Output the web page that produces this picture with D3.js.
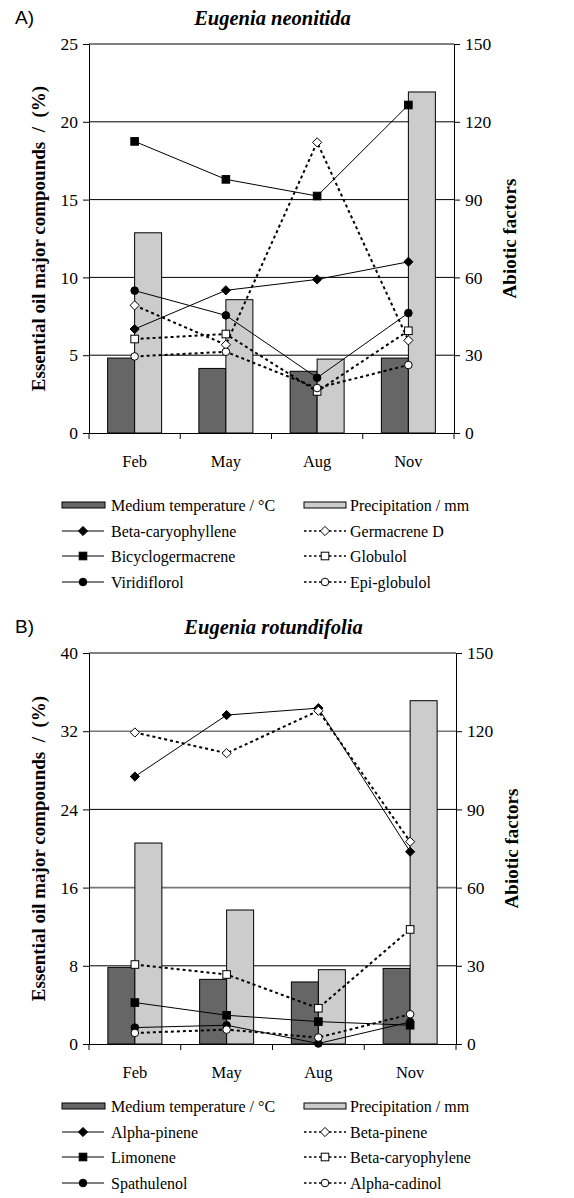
<!DOCTYPE html>
<html>
<head>
<meta charset="utf-8">
<script src="https://cdn.jsdelivr.net/npm/d3@7"></script>
<style>
  body { margin: 0; background: #fff; }
  svg { display: block; }
</style>
</head>
<body>
<svg id="chart" width="574" height="1198"></svg>
<script>
// months sampled
var months = ["Feb", "May", "Aug", "Nov"];

// abiotic factors (right axis), same stations for both species
var tempA = [28.9, 24.9, 23.8, 28.9];
var precipA = [77.2, 51.4, 28.5, 131.5];
var tempB = [29.4, 24.8, 23.8, 29.0];
var precipB = [77.1, 51.4, 28.5, 131.7];

// Eugenia neonitida compounds (%)
var betaCaryophylleneA = [6.68, 9.17, 9.87, 11.0];
var bicyclogermacreneA = [18.74, 16.3, 15.23, 21.08];
var viridiflorolA = [9.15, 7.56, 3.55, 7.71];
var germacreneDA = [8.2, 5.67, 18.68, 5.95];
var globulolA = [6.04, 6.36, 2.67, 6.57];
var epiGlobulolA = [4.92, 5.22, 2.89, 4.37];

// Eugenia rotundifolia compounds (%)
var alphaPineneB = [27.36, 33.65, 34.36, 19.67];
var limoneneB = [4.24, 2.94, 2.29, 1.92];
var spathulenolB = [1.68, 1.92, 0.05, 2.25];
var betaPineneB = [31.87, 29.75, 34.09, 20.7];
var betaCaryophyleneB = [8.13, 7.11, 3.66, 11.72];
var alphaCadinolB = [1.13, 1.47, 0.66, 3.04];

var ticksLeftA = [0, 5, 10, 15, 20, 25];
var ticksLeftB = [0, 8, 16, 24, 32, 40];
var ticksRight = [0, 30, 60, 90, 120, 150];

var SERIF = "'Liberation Serif', 'Times New Roman', serif";
var svg = d3.select("#chart");

function txt(g, x, y, s, size) {
  return g.append("text").attr("x", x).attr("y", y)
    .style("font-family", SERIF).style("font-size", size + "px").attr("fill", "#000").text(s);
}

function drawMarker(g, shape, filled, cx, cy) {
  var fill = filled ? "#000" : "#fff";
  if (shape == "circle") {
    g.append("circle").attr("cx", cx).attr("cy", cy).attr("r", 3.8)
      .attr("fill", fill).attr("stroke", "#000").attr("stroke-width", 1);
  } else if (shape == "diamond") {
    var r = 4.6;
    g.append("path")
      .attr("d", "M" + cx + "," + (cy - r) + "L" + (cx + r) + "," + cy + "L" + cx + "," + (cy + r) + "L" + (cx - r) + "," + cy + "Z")
      .attr("fill", fill).attr("stroke", "#000").attr("stroke-width", 1);
  } else {
    var h = 3.8;
    g.append("rect").attr("x", cx - h).attr("y", cy - h).attr("width", 2 * h).attr("height", 2 * h)
      .attr("fill", fill).attr("stroke", "#000").attr("stroke-width", 1);
  }
}

function drawPanel(p) {
  var g = svg.append("g");

  var x = d3.scaleBand().domain(months).range([p.left, p.right]);
  var yL = d3.scaleLinear().domain([0, p.leftMax]).range([p.bottom, p.top]);
  var yR = d3.scaleLinear().domain([0, 150]).range([p.bottom, p.top]);
  var cx = function(m) { return x(m) + x.bandwidth() / 2; };
  var barW = 27;

  // panel letter + title
  g.append("text").attr("x", 15).attr("y", p.top - 20)
    .style("font-family", "'Liberation Sans', Arial, sans-serif")
    .style("font-size", "19px").text(p.letter);
  txt(g, (p.left + p.right) / 2 + 1, p.top - 19, p.title, 20.5)
    .attr("text-anchor", "middle")
    .style("font-weight", "bold").style("font-style", "italic");

  // gridlines
  g.selectAll(".grid").data(p.ticksLeft.filter(function(t) { return t > 0; }))
    .enter().append("line")
    .attr("x1", p.left).attr("x2", p.right)
    .attr("y1", function(d) { return yL(d); }).attr("y2", function(d) { return yL(d); })
    .attr("stroke", function(d, i) { return p.softGrid && i % 2 == 1 ? "#777" : "#000"; })
    .attr("stroke-width", function(d, i) { return p.softGrid && i % 2 == 1 ? 1.6 : 1; });

  // bars
  g.selectAll(".temp").data(months).enter().append("rect")
    .attr("x", function(m) { return cx(m) - barW; })
    .attr("y", function(m, i) { return yR(p.temp[i]); })
    .attr("width", barW)
    .attr("height", function(m, i) { return p.bottom - yR(p.temp[i]); })
    .attr("fill", "#666666").attr("stroke", "#000").attr("stroke-width", 1);
  g.selectAll(".prec").data(months).enter().append("rect")
    .attr("x", function(m) { return cx(m); })
    .attr("y", function(m, i) { return yR(p.precip[i]); })
    .attr("width", barW)
    .attr("height", function(m, i) { return p.bottom - yR(p.precip[i]); })
    .attr("fill", "#cccccc").attr("stroke", "#000").attr("stroke-width", 1);

  // axes
  var axL = g.append("g").attr("transform", "translate(" + p.left + ",0)")
    .call(d3.axisLeft(yL).tickValues(p.ticksLeft).tickSize(6).tickSizeOuter(0).tickPadding(5));
  var axR = g.append("g").attr("transform", "translate(" + p.right + ",0)")
    .call(d3.axisRight(yR).tickValues(ticksRight).tickSize(6).tickSizeOuter(0).tickPadding(5));
  var axB = g.append("g").attr("transform", "translate(0," + p.bottom + ")")
    .call(d3.axisBottom(x).tickSize(0).tickSizeOuter(0).tickPadding(22));
  [axL, axR, axB].forEach(function(a) {
    a.selectAll("text").style("font-family", SERIF).style("font-size", "17.5px").attr("fill", "#000");
    a.selectAll("path, line").attr("stroke", "#000");
  });
  axB.selectAll("text").style("font-size", "16.5px");
  // tick marks between categories
  var bounds = months.map(function(m) { return x(m); }).concat([p.right]);
  g.selectAll(".xt").data(bounds).enter().append("line")
    .attr("x1", function(d) { return d; }).attr("x2", function(d) { return d; })
    .attr("y1", p.bottom).attr("y2", p.bottom + 6).attr("stroke", "#000");

  // axis titles
  txt(g, 0, 0, "Essential oil major compounds  /  (%)", 19)
    .attr("transform", "translate(" + (p.left - 44) + "," + ((p.top + p.bottom) / 2) + ") rotate(-90)")
    .attr("text-anchor", "middle").style("white-space", "pre")
    .style("font-weight", "bold");
  txt(g, 0, 0, "Abiotic factors", 19)
    .attr("transform", "translate(" + (p.right + 62) + "," + ((p.top + p.bottom) / 2) + ") rotate(-90)")
    .attr("text-anchor", "middle")
    .style("font-weight", "bold");

  // lines
  var line = d3.line().x(function(d) { return d[0]; }).y(function(d) { return d[1]; });
  p.series.forEach(function(s) {
    var pts = months.map(function(m, i) { return [cx(m), yL(s.values[i])]; });
    g.append("path").attr("d", line(pts)).attr("fill", "none").attr("stroke", "#000")
      .attr("stroke-width", s.dotted ? 2 : 1)
      .attr("stroke-dasharray", s.dotted ? "3,3" : null);
  });
  p.series.forEach(function(s) {
    months.forEach(function(m, i) {
      drawMarker(g, s.shape, !s.dotted, cx(m), yL(s.values[i]));
    });
  });

  // legend
  var lg = g.append("g");
  var colX = [62, 304];
  var rowY = [0, 26, 51, 77].map(function(d) { return p.legendTop + d; });
  lg.append("rect").attr("x", colX[0]).attr("y", rowY[0] - 3).attr("width", 43).attr("height", 6)
    .attr("fill", "#666666").attr("stroke", "#000");
  txt(lg, colX[0] + 49, rowY[0] + 6, "Medium temperature / °C", 16);
  lg.append("rect").attr("x", colX[1]).attr("y", rowY[0] - 3).attr("width", 42).attr("height", 6)
    .attr("fill", "#cccccc").attr("stroke", "#000");
  txt(lg, colX[1] + 46, rowY[0] + 6, "Precipitation / mm", 16);
  p.series.forEach(function(s, i) {
    var col = s.dotted ? 1 : 0;
    var row = 1 + (i % 3);
    var x0 = colX[col], y0 = rowY[row];
    lg.append("line").attr("x1", x0).attr("x2", x0 + 42).attr("y1", y0).attr("y2", y0)
      .attr("stroke", "#000").attr("stroke-width", s.dotted ? 1.5 : 1)
      .attr("stroke-dasharray", s.dotted ? "2.5,2.5" : null);
    drawMarker(lg, s.shape, !s.dotted, x0 + 21, y0);
    txt(lg, x0 + (s.dotted ? 46 : 49), y0 + 6, s.name, 16);
  });
}

drawPanel({
  letter: "A)", title: "Eugenia neonitida",
  left: 89, right: 454, top: 44, bottom: 433, leftMax: 25,
  ticksLeft: ticksLeftA, temp: tempA, precip: precipA, legendTop: 505,
  series: [
    { name: "Beta-caryophyllene", values: betaCaryophylleneA, shape: "diamond", dotted: false },
    { name: "Bicyclogermacrene", values: bicyclogermacreneA, shape: "square", dotted: false },
    { name: "Viridiflorol", values: viridiflorolA, shape: "circle", dotted: false },
    { name: "Germacrene D", values: germacreneDA, shape: "diamond", dotted: true },
    { name: "Globulol", values: globulolA, shape: "square", dotted: true },
    { name: "Epi-globulol", values: epiGlobulolA, shape: "circle", dotted: true }
  ]
});

drawPanel({
  letter: "B)", title: "Eugenia rotundifolia",
  left: 89, right: 456, top: 653, bottom: 1044, leftMax: 40, softGrid: true,
  ticksLeft: ticksLeftB, temp: tempB, precip: precipB, legendTop: 1106,
  series: [
    { name: "Alpha-pinene", values: alphaPineneB, shape: "diamond", dotted: false },
    { name: "Limonene", values: limoneneB, shape: "square", dotted: false },
    { name: "Spathulenol", values: spathulenolB, shape: "circle", dotted: false },
    { name: "Beta-pinene", values: betaPineneB, shape: "diamond", dotted: true },
    { name: "Beta-caryophylene", values: betaCaryophyleneB, shape: "square", dotted: true },
    { name: "Alpha-cadinol", values: alphaCadinolB, shape: "circle", dotted: true }
  ]
});
</script>
</body>
</html>
